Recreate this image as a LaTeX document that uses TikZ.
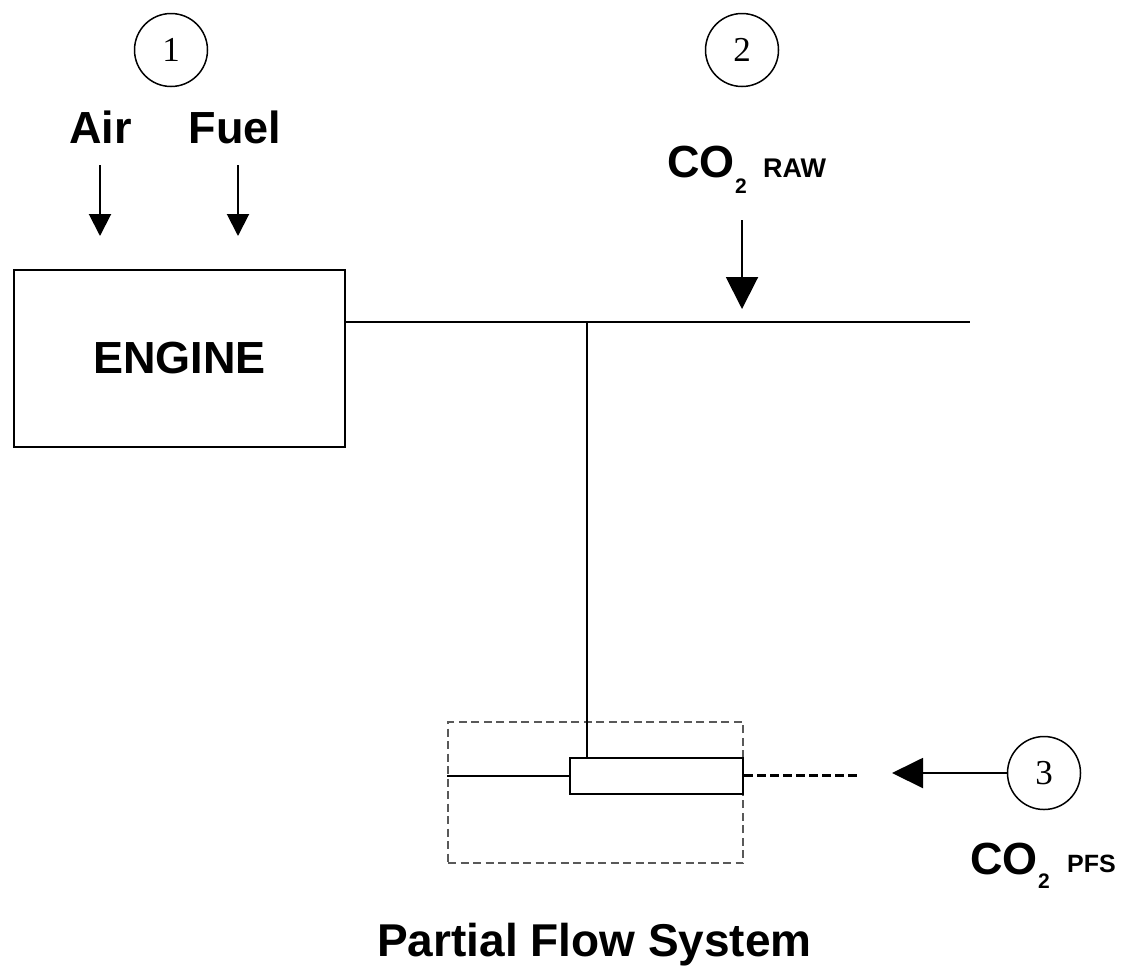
\documentclass[tikz,border=0pt]{standalone}
\usepackage{fontspec}
\setmainfont{Liberation Sans}
\newfontfamily\digitfont{Liberation Serif}
\usetikzlibrary{arrows.meta}
\tikzset{
  lbl/.style={font=\fontsize{45}{54}\selectfont\bfseries, inner sep=0pt},
  sublbl/.style={font=\fontsize{21}{25}\selectfont\bfseries, inner sep=0pt, anchor=base west},
  idxlbl/.style={font=\fontsize{27}{32}\selectfont\bfseries, inner sep=0pt, anchor=base west},
  numcirc/.style={circle, draw, line width=1.5pt, minimum size=73pt, inner sep=0pt, font=\fontsize{35}{40}\selectfont\digitfont},
  pipe/.style={line width=2pt},
  flowarrow/.style={line width=2pt, -{Triangle[length=22pt,width=22pt]}},
  bigarrow/.style={line width=2pt, -{Triangle[length=32pt,width=32pt]}},
  boxstyle/.style={draw, line width=2pt, inner sep=0pt},
  pfsbox/.style={draw=black!65, line width=2pt, dash pattern=on 8pt off 4.5pt},
  pfsdash/.style={line width=2.8pt, dash pattern=on 9pt off 4pt}
}
\begin{document}
\begin{tikzpicture}[x=1pt,y=-1pt]
\useasboundingbox (0,0) rectangle (1123,967);
% numbered circles
\node[numcirc] (c1) at (171,50) {1};
\node[numcirc] (c2) at (742,50) {2};
\node[numcirc] (c3) at (1044,773) {3};
% air and fuel
\node[lbl, anchor=base] (air) at (100.5,143) {Air};
\node[lbl, anchor=base] (fuel) at (235,143) {Fuel};
\coordinate (airTop) at (100,165);
\coordinate (airTip) at (100,236);
\coordinate (fuelTop) at (238,165);
\coordinate (fuelTip) at (238,236);
\draw[flowarrow] (airTop) -- (airTip);
\draw[flowarrow] (fuelTop) -- (fuelTip);
% engine
\node[boxstyle, lbl, draw, minimum width=331pt, minimum height=177pt] (engine) at (179.5,358.5) {ENGINE};
% main pipe
\coordinate (pipeEnd) at (970,322);
\coordinate (junction) at (587,322);
\draw[pipe] (engine.east |- pipeEnd) -- (pipeEnd);
% CO2 raw
\node[lbl, anchor=base west] (coraw) at (667,177) {CO};
\node[sublbl] (coraw2) at (735,193) {2};
\node[idxlbl] (raw) at (763,177) {RAW};
\coordinate (rawTop) at (742,220);
\coordinate (rawTip) at (742,309);
\draw[bigarrow] (rawTop) -- (rawTip);
% partial flow system
\node[pfsbox, minimum width=295pt, minimum height=141pt] (pfs) at (595.5,792.5) {};
\node[boxstyle, minimum width=173pt, minimum height=36pt] (probe) at (656.5,775.5) {};
\draw[pipe] (junction) -- (probe.north -| junction);
\draw[pipe] (pfs.west |- probe.west) -- (probe.west);
\coordinate (dashEnd) at (860,775.5);
\draw[pfsdash] (probe.east) -- (dashEnd);
\coordinate (pfsTip) at (892,773);
\draw[line width=2pt, -{Triangle[length=31pt,width=30pt]}] (c3.west) -- (pfsTip);
% CO2 PFS
\node[lbl, anchor=base west] (copfs) at (970,874) {CO};
\node[sublbl] (copfs2) at (1038,888) {2};
\node[font=\fontsize{25}{30}\selectfont\bfseries, inner sep=0pt, anchor=base west] (pfslbl) at (1067,872) {PFS};
% title
\node[font=\fontsize{46}{55}\selectfont\bfseries, inner sep=0pt, anchor=base] (title) at (594.5,956) {Partial Flow System};
\end{tikzpicture}
\end{document}
